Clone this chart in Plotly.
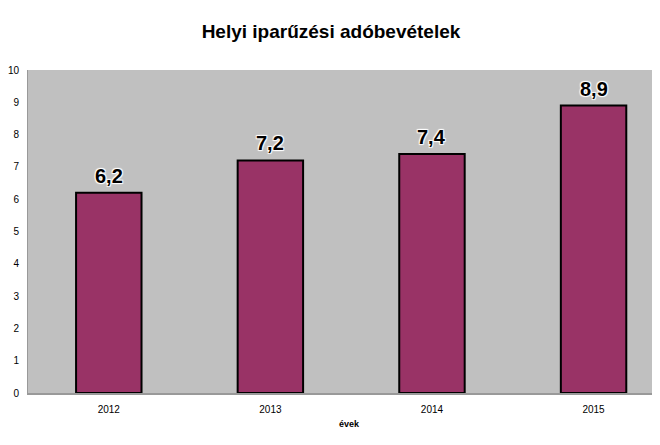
import plotly.graph_objects as go

years = ["2012", "2013", "2014", "2015"]
values = [6.2, 7.2, 7.4, 8.9]
y_ticks = list(range(0, 11))

FONT = "Liberation Sans, Arial, sans-serif"
halo = ("1px 1px 1px white, -1px -1px 1px white, "
        "1px -1px 1px white, -1px 1px 1px white")

# page body has an 8px margin, so the figure is sized/offset to fit the 660x445 window
W, H = 652, 437
L, T, B = 16, 62, 52

fig = go.Figure()
fig.add_trace(go.Bar(
    x=years, y=values, width=0.405,
    marker=dict(color="#993366", line=dict(color="black", width=2)),
    hoverinfo="skip",
))

annotations = [
    dict(x=i, y=v, xref="x", yref="y", text=f"<b>{v:.1f}</b>".replace(".", ","),
         showarrow=False, yanchor="bottom", xanchor="center", yshift=4,
         font=dict(family=FONT, size=20, color="black", shadow=halo))
    for i, v in enumerate(values)
]
annotations.append(dict(text="<b>évek</b>", xref="paper", yref="paper",
                        x=(340 - L) / (W - L), y=-(416 - (H - B)) / (H - B - T),
                        xanchor="center", yanchor="middle", showarrow=False,
                        font=dict(size=9, family=FONT)))

fig.update_layout(
    width=W, height=H,
    margin=dict(l=L, r=0, t=T, b=B),
    paper_bgcolor="white", plot_bgcolor="#c0c0c0",
    showlegend=False,
    font=dict(family=FONT, size=10, color="black"),
    title=dict(text="<b>Helyi iparűzési adóbevételek</b>", x=(331 - 8) / W, xanchor="center",
               y=1 - 23 / H, yanchor="middle", yref="container",
               font=dict(family=FONT, size=19, color="black")),
    xaxis=dict(type="category", range=[-0.5, 3.405], showgrid=False, showline=True,
               linecolor="#999999", linewidth=1.5, ticks="", ticklabelstandoff=6,
               tickfont=dict(size=10, family=FONT)),
    yaxis=dict(range=[0, 10], tickvals=y_ticks, showgrid=False, zeroline=False,
               showline=True, linecolor="#999999", linewidth=1, mirror=True,
               ticks="", ticklabelstandoff=6, tickfont=dict(size=10, family=FONT)),
    annotations=annotations,
)

fig.write_html("out.html")
